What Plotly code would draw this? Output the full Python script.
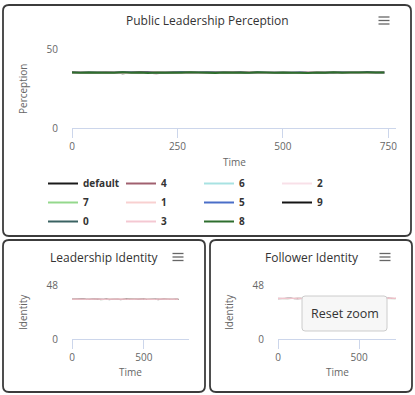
import plotly.graph_objects as go

# ---------------- data ----------------
TIME = list(range(0, 741, 20))

SERIES_ORDER = ["default", "4", "6", "2", "7", "1", "5", "9", "0", "3", "8"]
SERIES_COLORS = {
    "default": "#1a1a1a", "4": "#a0606f", "6": "#a8e2e2", "2": "#f8e0e8",
    "7": "#94d88c", "1": "#f8d0d0", "5": "#4a6ec8", "9": "#141414",
    "0": "#3a6262", "3": "#f4c8d2", "8": "#2e6e2e",
}

PERC_DEFAULT = [35.1,34.8,35.3,34.9,35.0,35.4,34.7,35.2,35.0,34.9,35.3,35.1,34.8,35.2,35.0,35.4,34.9,35.1,35.3,34.8,35.0,35.2,34.9,35.1,35.4,34.8,35.0,35.2,35.1,34.9,35.3,35.0,34.8,35.2,35.1,34.9,35.0,35.2]
PERC_4 = [34.9,35.2,35.0,35.3,34.8,35.1,35.4,34.9,35.2,35.0,34.7,35.1,35.3,34.9,35.2,35.0,35.1,34.8,35.2,35.4,34.9,35.1,35.0,35.3,34.8,35.2,35.1,34.9,35.0,35.3,35.1,34.8,35.2,35.0,34.9,35.3,35.1,35.0]
PERC_6 = [35.0,35.3,34.9,35.1,35.2,34.8,35.0,35.3,35.1,34.9,35.2,35.0,35.4,35.1,34.8,35.0,35.2,35.1,34.9,35.0,35.3,35.2,34.8,35.0,35.1,35.3,34.9,35.1,35.2,35.0,34.8,35.1,35.3,34.9,35.2,35.0,35.1,34.9]
PERC_2 = [35.2,34.9,35.1,35.0,35.3,34.9,35.1,35.2,34.8,35.1,35.0,35.3,34.9,35.0,35.2,35.1,34.8,35.3,35.0,35.1,34.9,35.2,35.0,35.1,34.9,35.3,35.2,35.0,34.8,35.1,35.0,35.2,35.1,34.9,35.3,35.0,34.9,35.1]
PERC_7 = [34.8,35.1,35.2,34.9,35.0,35.3,35.1,34.8,35.0,35.2,35.1,34.9,35.0,35.3,35.1,34.9,35.2,35.0,35.1,35.3,34.8,35.0,35.2,34.9,35.1,35.0,35.3,35.1,34.9,35.2,35.0,35.1,34.9,35.3,35.0,35.2,34.8,35.1]
PERC_1 = [35.1,35.0,34.8,35.2,35.1,35.0,35.3,34.9,35.1,35.2,34.9,35.0,35.2,35.1,34.9,35.3,35.0,35.2,34.8,35.1,35.2,35.0,35.1,34.9,35.2,35.0,34.9,35.3,35.1,35.0,35.2,34.9,35.0,35.1,35.3,34.9,35.2,35.0]
PERC_5 = [35.0,34.9,35.2,35.1,34.9,35.0,35.2,35.1,34.8,35.3,35.0,35.1,34.9,35.2,35.0,35.1,35.3,34.9,35.0,35.2,35.1,34.8,35.3,35.0,35.1,34.9,35.2,35.0,35.3,34.9,35.1,35.0,35.2,35.1,34.8,35.1,35.0,35.2]
PERC_9 = [35.2,35.0,35.1,34.8,35.2,35.1,34.9,35.0,35.3,35.0,35.1,34.9,35.2,35.0,35.3,34.9,35.0,35.1,35.2,34.9,35.1,35.3,35.0,34.9,35.2,35.1,35.0,34.8,35.2,35.1,34.9,35.3,35.0,35.2,34.9,35.1,35.0,35.3]
PERC_0 = [34.9,35.1,35.0,35.2,34.9,35.3,35.0,35.1,34.9,35.2,35.0,34.8,35.1,35.2,35.0,34.9,35.3,35.1,35.0,34.8,35.2,35.1,34.9,35.2,35.0,35.1,34.8,35.2,35.0,34.9,35.3,35.1,34.9,35.0,35.2,35.0,35.3,34.9]
PERC_3 = [35.0,35.2,34.9,35.0,35.1,35.2,34.8,35.1,35.0,34.9,35.3,35.2,35.0,34.8,35.1,35.2,35.0,34.9,35.1,35.2,35.0,35.3,34.9,35.1,35.0,35.2,35.1,34.9,35.3,35.0,35.1,35.2,34.9,35.1,35.0,34.8,35.2,35.1]
PERC_8 = [35.1,34.9,35.2,35.0,35.1,34.9,35.3,35.0,35.2,34.8,35.1,35.0,35.2,34.9,35.3,35.0,35.1,34.8,35.2,35.1,34.9,35.0,35.3,35.1,34.9,35.2,35.0,35.1,34.8,35.2,35.0,35.3,34.9,35.1,35.0,35.2,34.9,35.1]

LEAD_DEFAULT = [35.2,35.4,35.1,35.3,35.5,35.2,35.0,35.3,35.4,35.1,35.3,35.2,35.5,35.1,35.3,35.4,35.2,35.0,35.3,35.5,35.2,35.4,35.1,35.3,35.2,35.5,35.1,35.3,35.4,35.2,35.0,35.3,35.4,35.2,35.1,35.3,35.5,35.2]
LEAD_8 = [35.3,35.1,35.4,35.2,35.3,35.5,35.1,35.2,35.4,35.3,35.0,35.4,35.2,35.3,35.5,35.1,35.3,35.2,35.4,35.1,35.3,35.5,35.2,35.0,35.4,35.3,35.2,35.5,35.1,35.3,35.4,35.2,35.3,35.1,35.4,35.2,35.3,35.4]
LEAD_0 = [35.4,35.2,35.3,35.5,35.1,35.3,35.4,35.2,35.1,35.4,35.3,35.5,35.2,35.0,35.3,35.4,35.1,35.3,35.5,35.2,35.4,35.1,35.3,35.2,35.5,35.1,35.3,35.4,35.2,35.3,35.5,35.1,35.2,35.4,35.3,35.5,35.2,35.3]
LEAD_4 = [35.2,35.3,35.5,35.2,35.4,35.1,35.3,35.4,35.2,35.5,35.1,35.3,35.4,35.2,35.3,35.1,35.5,35.2,35.3,35.4,35.1,35.3,35.5,35.2,35.3,35.4,35.2,35.1,35.4,35.3,35.2,35.5,35.3,35.1,35.4,35.2,35.3,35.2]
LEAD_1 = [35.4,35.3,35.4,35.5,35.3,35.4,35.6,35.3,35.4,35.5,35.3,35.4,35.3,35.5,35.4,35.3,35.5,35.4,35.3,35.4,35.5,35.3,35.4,35.6,35.3,35.4,35.5,35.3,35.4,35.3,35.5,35.4,35.3,35.5,35.4,35.3,35.4,35.5]
LEAD_3 = [35.5,35.4,35.5,35.3,35.6,35.4,35.5,35.4,35.6,35.3,35.5,35.4,35.5,35.6,35.4,35.5,35.3,35.5,35.6,35.4,35.5,35.4,35.6,35.5,35.3,35.5,35.4,35.6,35.5,35.4,35.5,35.3,35.6,35.4,35.5,35.4,35.6,35.5]

FOLL_DEFAULT = [35.9,36.1,35.8,36.0,36.2,35.9,36.0,36.1,35.8,36.0,36.2,35.9,36.1,36.0,35.8,36.1,35.9,36.0,36.2,35.9,36.1,35.8,36.0,36.1,35.9,36.2,36.0,35.8,36.1,35.9,36.0,36.2,35.9,36.0,36.1,35.8,36.0,36.1]
FOLL_8 = [36.0,35.8,36.1,35.9,36.0,36.2,35.9,36.1,36.0,35.8,36.1,36.0,35.9,36.2,36.0,35.9,36.1,35.8,36.0,36.1,35.9,36.2,36.0,35.9,36.1,35.8,36.0,36.2,35.9,36.1,36.0,35.9,36.1,36.0,35.8,36.1,35.9,36.0]
FOLL_0 = [36.1,35.9,36.0,36.2,35.8,36.0,36.1,35.9,36.2,36.0,35.9,36.1,35.8,36.0,36.2,35.9,36.0,36.1,35.9,36.2,36.0,35.8,36.1,36.0,35.9,36.1,36.2,35.9,36.0,35.8,36.1,36.0,35.9,36.2,36.0,35.9,36.1,36.0]
FOLL_4 = [35.9,36.0,36.2,35.9,36.1,36.0,35.8,36.1,35.9,36.2,36.0,35.9,36.1,36.0,35.8,36.2,35.9,36.0,36.1,35.9,36.0,36.2,35.8,36.1,36.0,35.9,36.1,36.0,36.2,35.9,36.0,36.1,35.8,36.0,36.2,35.9,36.0,36.1]
FOLL_1 = [36.1,36.2,36.0,36.1,36.3,36.0,36.2,36.1,36.0,36.2,36.1,36.3,36.0,36.1,36.2,36.0,36.1,36.3,36.1,36.0,36.2,36.1,36.0,36.3,36.1,36.2,36.0,36.1,36.2,36.3,36.0,36.1,36.2,36.0,36.1,36.3,36.1,36.2]
FOLL_3 = [36.2,36.1,36.3,36.2,36.0,36.2,36.3,36.1,36.2,36.0,36.3,36.2,36.1,36.2,36.3,36.1,36.0,36.2,36.3,36.1,36.2,36.0,36.3,36.2,36.1,36.3,36.2,36.0,36.2,36.1,36.3,36.2,36.1,36.0,36.2,36.3,36.1,36.2]

PERCEPTION = {"default": PERC_DEFAULT, "4": PERC_4, "6": PERC_6, "2": PERC_2, "7": PERC_7,
              "1": PERC_1, "5": PERC_5, "9": PERC_9, "0": PERC_0, "3": PERC_3, "8": PERC_8}
LEADERSHIP = [("default", LEAD_DEFAULT), ("8", LEAD_8), ("0", LEAD_0), ("4", LEAD_4), ("1", LEAD_1), ("3", LEAD_3)]
FOLLOWER = [("default", FOLL_DEFAULT), ("8", FOLL_8), ("0", FOLL_0), ("4", FOLL_4), ("1", FOLL_1), ("3", FOLL_3)]

TOP_XTICKS = [0, 250, 500, 750]
BOTTOM_XTICKS = [0, 500]

# ---------------- layout helpers ----------------
W, H = 415, 395
ML, MR = 40, 19
GW = W - ML - MR


def px(x):
    return (x - ML) / GW


def py(y):
    return 1 - y / H


FONT = "Open Sans, Verdana, sans-serif"
TXT = "#333333"
LBL = "#666666"
AXC = "#ccd6eb"
GRID = "#e6e6e6"

fig = go.Figure()

for name in SERIES_ORDER:
    fig.add_trace(go.Scatter(x=TIME, y=PERCEPTION[name], mode="lines", name=name,
                             line=dict(color=SERIES_COLORS[name], width=2),
                             xaxis="x", yaxis="y", showlegend=True))
for name, vals in LEADERSHIP:
    fig.add_trace(go.Scatter(x=TIME, y=vals, mode="lines", name=name,
                             line=dict(color=SERIES_COLORS[name], width=1),
                             xaxis="x2", yaxis="y2", showlegend=False))
for name, vals in FOLLOWER:
    fig.add_trace(go.Scatter(x=TIME, y=vals, mode="lines", name=name,
                             line=dict(color=SERIES_COLORS[name], width=1),
                             xaxis="x3", yaxis="y3", showlegend=False))


def xax(domain, rng, ticks, anchor):
    return dict(domain=domain, range=rng, tickvals=ticks, showgrid=False, zeroline=False,
                showline=True, linecolor=AXC, linewidth=1, ticks="outside", ticklen=9,
                tickcolor=AXC, tickfont=dict(family=FONT, size=10, color=LBL), anchor=anchor,
                fixedrange=True, automargin=False)


def yax(domain, rng, ticks, anchor):
    return dict(domain=domain, range=rng, tickvals=ticks, showgrid=True, gridcolor=GRID,
                zeroline=False, showline=False, ticks="outside", ticklen=11,
                tickcolor="rgba(0,0,0,0)", tickfont=dict(family=FONT, size=10, color=LBL),
                anchor=anchor, fixedrange=True, automargin=False)


top_y = [py(128), py(49)]
bot_y = [py(339), py(285)]

fig.update_layout(
    width=W, height=H,
    margin=dict(l=ML, r=MR, t=0, b=0, pad=0, autoexpand=False),
    paper_bgcolor="white", plot_bgcolor="white",
    xaxis=xax([px(72), px(396)], [0, 768], TOP_XTICKS, "y"),
    yaxis=yax(top_y, [0, 50], [0, 50], "x"),
    xaxis2=xax([px(72), px(189)], [0, 815], BOTTOM_XTICKS, "y2"),
    yaxis2=yax(bot_y, [0, 48], [0, 48], "x2"),
    xaxis3=xax([px(278), px(396)], [0, 728], BOTTOM_XTICKS, "y3"),
    yaxis3=yax(bot_y, [0, 48], [0, 48], "x3"),
    legend=dict(orientation="h", x=px(43), xanchor="left", y=py(169), yanchor="top",
                entrywidth=33, entrywidthmode="pixels", bgcolor="rgba(0,0,0,0)",
                font=dict(family=FONT, size=10, color=TXT, weight="bold"),
                traceorder="normal"),
    showlegend=True,
)


def rounded(x0, y0, x1, y1, r):
    pts = [
        (x0 + r, y0), (x1 - r, y0), (x1, y0), (x1, y0 + r), (x1, y1 - r), (x1, y1),
        (x1 - r, y1), (x0 + r, y1), (x0, y1), (x0, y1 - r), (x0, y0 + r), (x0, y0), (x0 + r, y0),
    ]
    p = [(px(a), py(b)) for a, b in pts]
    s = "M {:.5f},{:.5f} L {:.5f},{:.5f} Q {:.5f},{:.5f} {:.5f},{:.5f} L {:.5f},{:.5f} Q {:.5f},{:.5f} {:.5f},{:.5f} " \
        "L {:.5f},{:.5f} Q {:.5f},{:.5f} {:.5f},{:.5f} L {:.5f},{:.5f} Q {:.5f},{:.5f} {:.5f},{:.5f} Z"
    flat = [c for pt in p for c in pt]
    return s.format(*flat)


shapes = []
for box in [(3, 5, 411, 236), (3, 240, 205, 392), (210, 240, 412, 392)]:
    shapes.append(dict(type="path", path=rounded(*box, 6), xref="paper", yref="paper",
                       line=dict(color="#3c3c3c", width=1.8), fillcolor="rgba(0,0,0,0)", layer="above"))

# hamburger menu icons
for cx, cy in [(384, 20.5), (178, 257), (385, 257)]:
    for dy in (-3.5, 0, 3.5):
        shapes.append(dict(type="line", xref="paper", yref="paper",
                           x0=px(cx - 5.5), x1=px(cx + 5.5), y0=py(cy + dy), y1=py(cy + dy),
                           line=dict(color="#666666", width=1.3), layer="above"))

# reset zoom button
shapes.append(dict(type="path", path=rounded(302, 296, 387, 331, 3), xref="paper", yref="paper",
                   line=dict(color="#cccccc", width=1), fillcolor="#f7f7f7", layer="above"))
fig.update_layout(shapes=shapes)

annotations = []


def ann(text, x, y, size, color, angle=0):
    annotations.append(dict(text=text, x=px(x), y=py(y), xref="paper", yref="paper",
                            xanchor="center", yanchor="middle", showarrow=False, textangle=angle,
                            font=dict(family=FONT, size=size, color=color)))


ann("Public Leadership Perception", 207.5, 21, 12, TXT)
ann("Leadership Identity", 104.5, 257, 12, TXT)
ann("Follower Identity", 311.5, 257, 12, TXT)
ann("Perception", 23, 89, 10, LBL, -90)
ann("Identity", 23, 312, 10, LBL, -90)
ann("Identity", 229, 312, 10, LBL, -90)
ann("Time", 234, 162, 10, LBL)
ann("Time", 130.5, 372, 10, LBL)
ann("Time", 337, 372, 10, LBL)
ann("Reset zoom", 344.5, 313.5, 12.5, TXT)
fig.update_layout(annotations=annotations)

fig.write_html(
    "out.html",
    config={"displayModeBar": False},
    post_script="document.documentElement.style.margin='0';document.documentElement.style.padding='0';"
                "document.body.style.margin='0';document.body.style.padding='0';"
                "document.body.style.overflow='hidden';",
)
